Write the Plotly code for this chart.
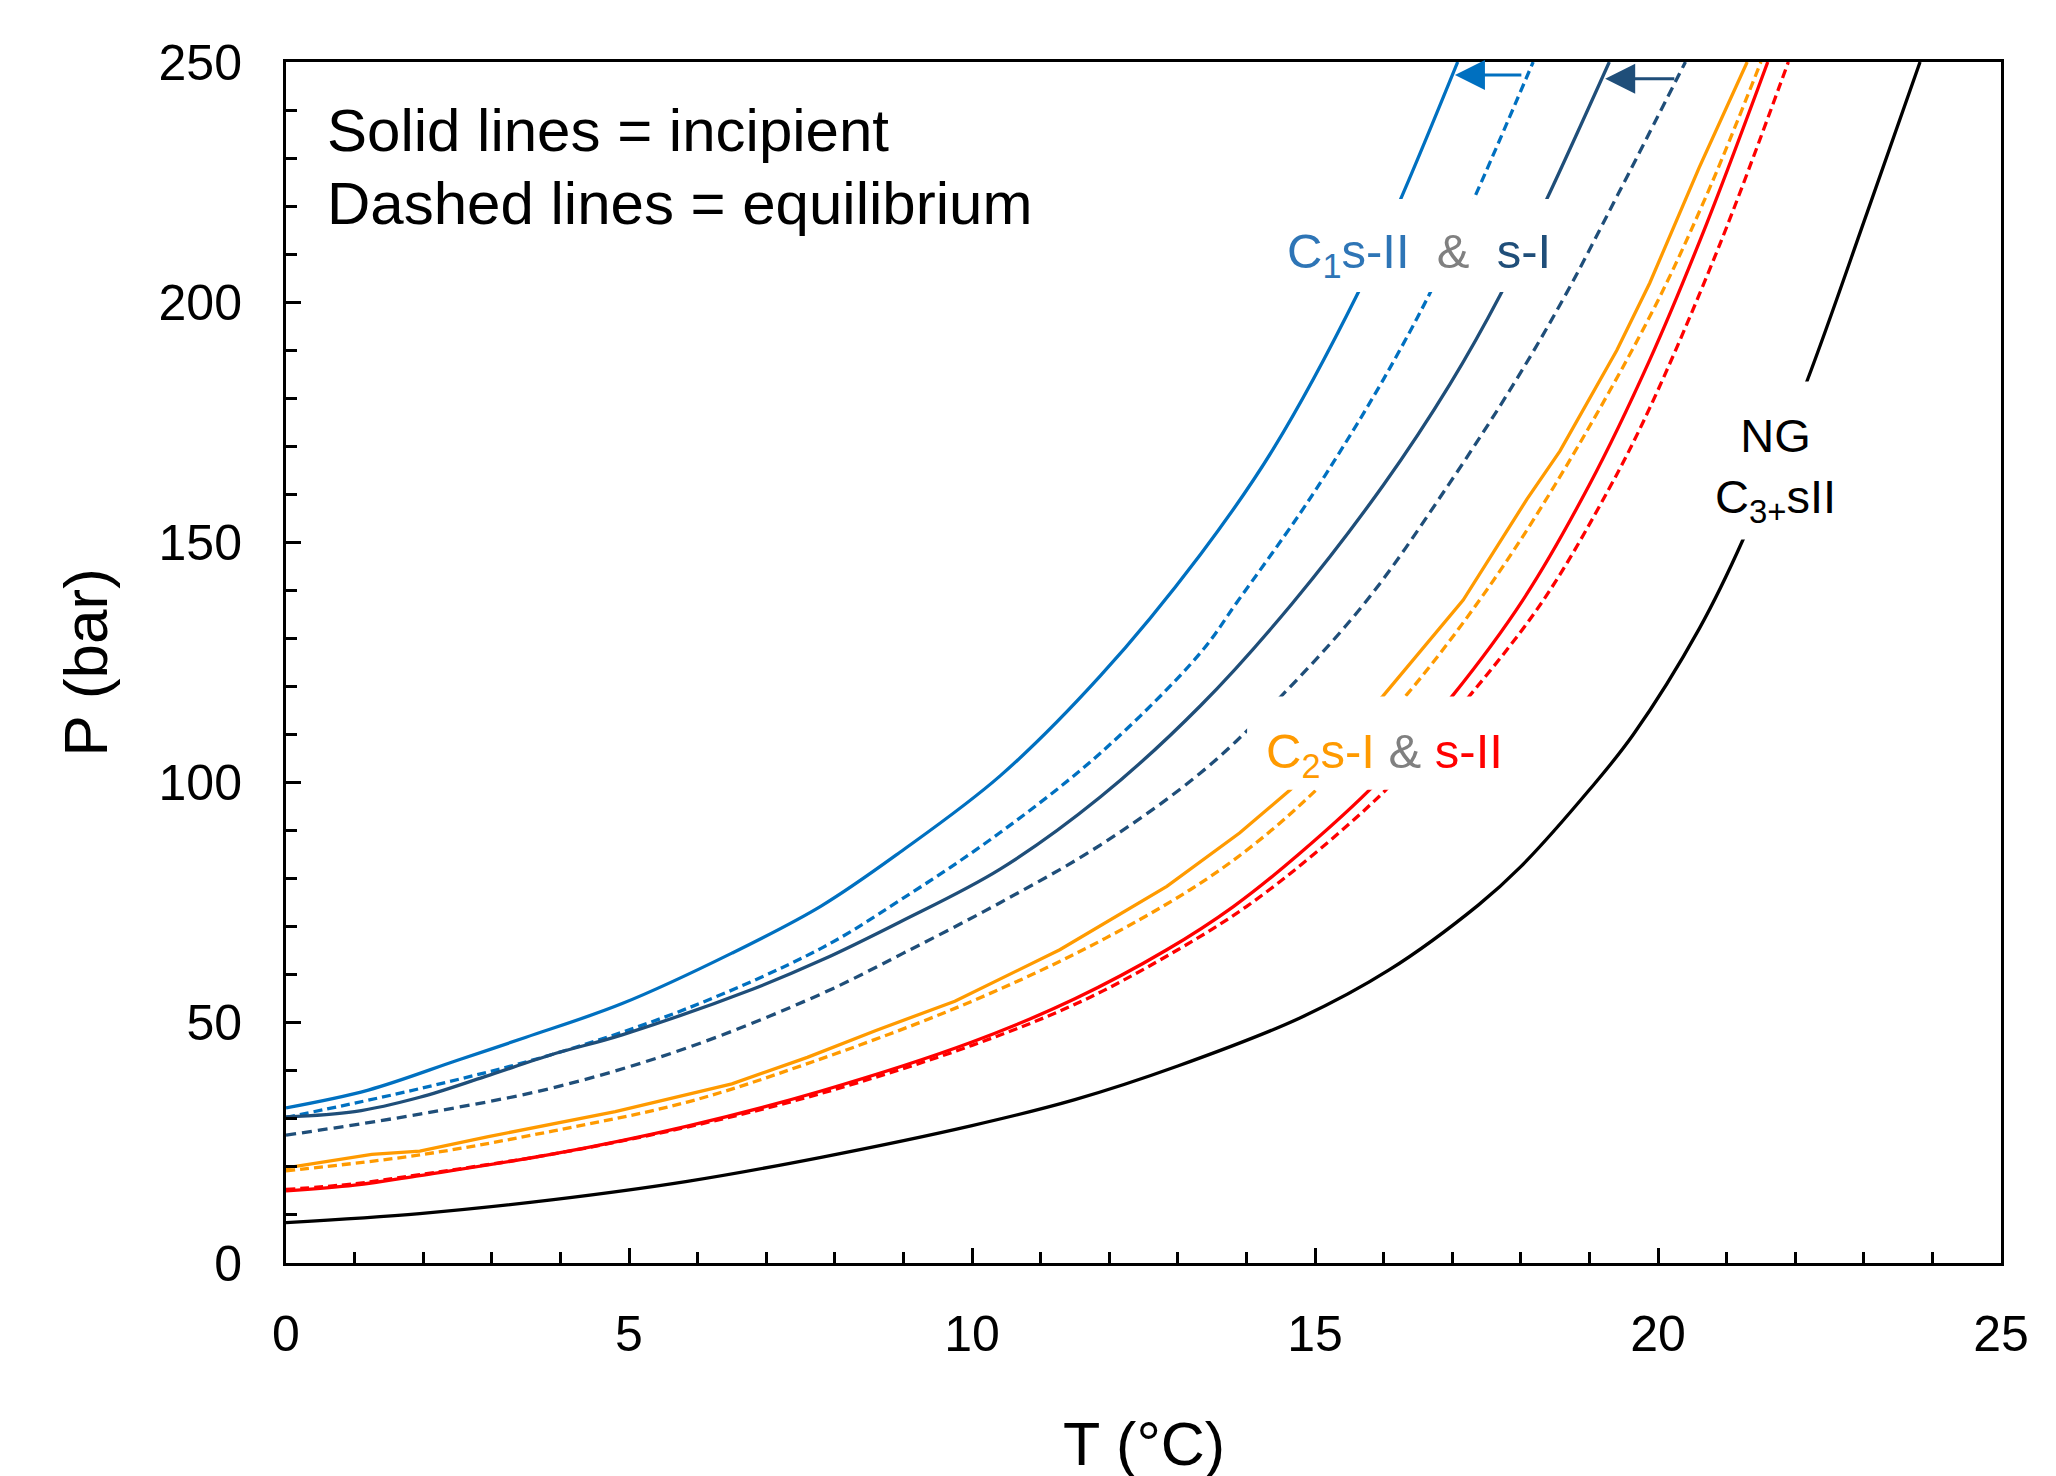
import plotly.graph_objects as go

# ---------------- data ----------------
# C1 s-II (incipient, solid)
c1_sII_inc_T = [0, 1.2, 2.5, 3.5, 4.9, 6.5, 7.8, 8.95, 10.41, 11.87, 13.33, 14.39, 15.63, 16.25, 17.08]
c1_sII_inc_P = [32.3, 36.0, 42.2, 47.0, 54.0, 64.5, 74.3, 85.5, 101.4, 122.2, 147.5, 169.4, 202, 221.5, 250]
# C1 s-II (equilibrium, dashed)
c1_sII_eq_T = [0, 1.95, 3.9, 5.85, 7.8, 8.95, 10.4, 11.9, 13.33, 13.86, 14.78, 15.37, 16.0, 16.68, 17.3, 18.18]
c1_sII_eq_P = [30.3, 36.3, 43.5, 53.0, 65.5, 75.5, 89.5, 106.5, 127, 137.5, 156, 169, 184, 202, 221, 250]
# C1 s-I (incipient, solid)
c1_sI_inc_T = [0, 1.0, 1.95, 2.9, 3.9, 4.9, 6.8, 7.8, 8.95, 10.41, 11.87, 13.33, 14.68, 16.0, 16.97, 17.7, 18.38, 19.29]
c1_sI_inc_P = [30.4, 31.5, 34.5, 38.8, 43.5, 47.5, 57.0, 63.0, 71.0, 82.0, 97.0, 116.0, 137.5, 162, 183, 201.5, 221.5, 250]
# C1 s-I (equilibrium, dashed)
c1_sI_eq_T = [0, 1.95, 3.9, 5.85, 7.8, 9.0, 10.41, 11.87, 13.33, 14.44, 15.76, 16.97, 17.94, 18.67, 19.4, 20.4]
c1_sI_eq_P = [26.6, 31.0, 36.5, 44.8, 56.0, 64.5, 75.0, 87.0, 102.0, 117.0, 138, 162.5, 184, 202, 222, 250]
# C2 s-I (incipient, solid)
c2_sI_inc_T = [0, 1.25, 1.95, 2.95, 4.8, 6.5, 7.6, 8.6, 9.75, 11.28, 12.84, 13.9, 14.64, 15.99, 17.16, 18.09, 18.57, 19.4, 19.88, 20.6, 21.3]
c2_sI_inc_P = [19.8, 22.6, 23.3, 26.3, 31.5, 37.3, 42.8, 48.4, 54.5, 65.2, 78.4, 89.5, 98.5, 118, 138, 159, 169, 190, 204, 228, 250]
# C2 s-I (equilibrium, dashed)
c2_sI_eq_T = [0, 1.95, 3.9, 5.85, 7.6, 9.75, 11.62, 13.18, 14.1, 15.02, 16.2, 17.4, 18.5, 19.88, 20.7, 21.5]
c2_sI_eq_P = [19.2, 22.5, 27.5, 33.5, 41.5, 53.0, 65.2, 77.7, 87.0, 98.5, 116, 138, 162, 197, 222, 250]
# C2 s-II (incipient, solid)
c2_sII_inc_T = [0, 1.0, 1.95, 3.9, 5.85, 7.8, 10.0, 11.5, 12.84, 13.81, 14.78, 15.9, 17.0, 18.03, 19.0, 19.88, 20.7, 21.6]
c2_sII_inc_P = [15.0, 16.2, 18.2, 22.7, 28.5, 35.8, 46.0, 55.0, 65.2, 74.2, 85.3, 100.0, 118, 138, 162, 188, 216, 250]
# C2 s-II (equilibrium, dashed)
c2_sII_eq_T = [0, 1.0, 1.95, 3.9, 5.85, 7.8, 10.0, 11.6, 13.0, 14.0, 15.0, 16.14, 17.25, 18.33, 19.28, 19.88, 20.9, 21.9]
c2_sII_eq_P = [15.3, 16.5, 18.4, 22.7, 28.3, 35.3, 45.3, 54.5, 65.2, 74.2, 85.3, 100.0, 118, 138, 161, 178, 212, 250]
# NG C3+ s-II
ng_T = [0, 1.95, 3.9, 5.85, 7.8, 10.0, 11.5, 13.0, 14.78, 16.08, 17.38, 18.0, 19.0, 19.64, 20.6, 21.24, 22.17, 23.05, 23.82]
ng_P = [8.4, 10.3, 13.2, 17.0, 22.0, 28.6, 34.0, 41.0, 51.0, 61.0, 74.5, 82.5, 98.5, 110.0, 132.0, 150.6, 183.5, 218.7, 250]

x_ticks = [0, 5, 10, 15, 20, 25]
y_ticks = [0, 50, 100, 150, 200, 250]

BLUE = "#0070C0"
DARK = "#1F4E79"
ORANGE = "#FF9A00"
RED = "#FF0000"
BLACK = "#000000"
FONT = "Arial, 'Liberation Sans', sans-serif"

series = [
    (c1_sII_inc_T, c1_sII_inc_P, BLUE, "solid", "spline"),
    (c1_sII_eq_T, c1_sII_eq_P, BLUE, "9px,5px", "spline"),
    (c1_sI_inc_T, c1_sI_inc_P, DARK, "solid", "spline"),
    (c1_sI_eq_T, c1_sI_eq_P, DARK, "10px,6px", "spline"),
    (c2_sI_inc_T, c2_sI_inc_P, ORANGE, "solid", "linear"),
    (c2_sI_eq_T, c2_sI_eq_P, ORANGE, "9px,5px", "spline"),
    (c2_sII_inc_T, c2_sII_inc_P, RED, "solid", "spline"),
    (c2_sII_eq_T, c2_sII_eq_P, RED, "9px,5px", "spline"),
    (ng_T, ng_P, BLACK, "solid", "spline"),
]

fig = go.Figure()
for T, P, col, dash, shape in series:
    line = dict(color=col, width=3.3, dash=dash, shape=shape)
    if shape == "spline":
        line["smoothing"] = 1.0
    fig.add_trace(go.Scatter(x=T, y=P, mode="lines", line=line, hoverinfo="skip"))

# white boxes behind the in-plot labels (they break the curves, as in the reference)
boxes = [
    (14.46, 18.55, 202.1, 221.5),
    (14.01, 17.84, 98.5, 117.9),
    (20.61, 22.80, 150.6, 183.5),
]
shapes = [dict(type="rect", xref="x", yref="y", x0=a, x1=b, y0=c, y1=d,
               fillcolor="white", line=dict(width=0), layer="above") for a, b, c, d in boxes]

ann = []
ann.append(dict(
    x=16.52, y=209.9, xref="x", yref="y", showarrow=False,
    text=("<span style='color:#2E75B6'>C<sub>1</sub>s-II</span>&#160;&#160;"
          "<span style='color:#808080'>&amp;</span>&#160;&#160;"
          "<span style='color:#1F4E79'>s-I</span>"),
    font=dict(family=FONT, size=49), xanchor="center", yanchor="middle"))
ann.append(dict(
    x=16.01, y=105.8, xref="x", yref="y", showarrow=False,
    text=("<span style='color:#FF9A00'>C<sub>2</sub>s-I</span>&#160;"
          "<span style='color:#808080'>&amp;</span>&#160;"
          "<span style='color:#FF0000'>s-II</span>"),
    font=dict(family=FONT, size=49), xanchor="center", yanchor="middle"))
ann.append(dict(
    x=21.71, y=165.2, xref="x", yref="y", showarrow=False,
    text="NG<br>C<sub>3+</sub>sII",
    font=dict(family=FONT, size=47, color="black"), xanchor="center", yanchor="middle"))
# top-left note
ann.append(dict(x=0.57, y=235.8, xref="x", yref="y", showarrow=False, text="Solid lines = incipient",
                font=dict(family=FONT, size=60, color="black"), xanchor="left", yanchor="middle"))
ann.append(dict(x=0.57, y=220.5, xref="x", yref="y", showarrow=False, text="Dashed lines = equilibrium",
                font=dict(family=FONT, size=60, color="black"), xanchor="left", yanchor="middle"))
# arrows
ann.append(dict(x=17.04, y=247.3, ax=18.03, ay=247.3, xref="x", yref="y", axref="x", ayref="y",
                showarrow=True, arrowhead=2, arrowsize=2.0, arrowwidth=3, arrowcolor=BLUE, text=""))
ann.append(dict(x=19.23, y=246.5, ax=20.26, ay=246.5, xref="x", yref="y", axref="x", ayref="y",
                showarrow=True, arrowhead=2, arrowsize=2.0, arrowwidth=3, arrowcolor=DARK, text=""))
# axis titles
ann.append(dict(x=0.5, y=0, xref="paper", yref="paper", yshift=-181, showarrow=False, text="T (°C)",
                font=dict(family=FONT, size=61, color="black"), xanchor="center", yanchor="middle"))
ann.append(dict(x=0, y=0.5, xref="paper", yref="paper", xshift=-201, showarrow=False, text="P (bar)",
                textangle=-90, font=dict(family=FONT, size=62, color="black"),
                xanchor="center", yanchor="middle"))

axis_common = dict(
    showgrid=False, zeroline=False, showline=True, linecolor="black", linewidth=3,
    mirror=True, ticks="inside", tickcolor="black", tickwidth=2.5, ticklen=15,
    tickfont=dict(family=FONT, size=50, color="black"),
)

fig.update_layout(
    width=2056, height=1476,
    margin=dict(l=286, r=55, t=62, b=213),
    paper_bgcolor="white", plot_bgcolor="white",
    showlegend=False,
    annotations=ann,
    shapes=shapes,
    xaxis=dict(range=[0, 25], tickvals=x_ticks, ticktext=[str(v) for v in x_ticks],
               minor=dict(dtick=1, ticks="inside", ticklen=11, tickwidth=2.5, tickcolor="black"),
               ticklabelstandoff=25, **axis_common),
    yaxis=dict(range=[0, 250], tickvals=y_ticks, ticktext=[str(v) for v in y_ticks],
               minor=dict(dtick=10, ticks="inside", ticklen=11, tickwidth=2.5, tickcolor="black"),
               ticklabelstandoff=31, **axis_common),
)

fig.write_html("out.html", config={"displayModeBar": False},
               post_script="document.body.style.margin='0px';")
